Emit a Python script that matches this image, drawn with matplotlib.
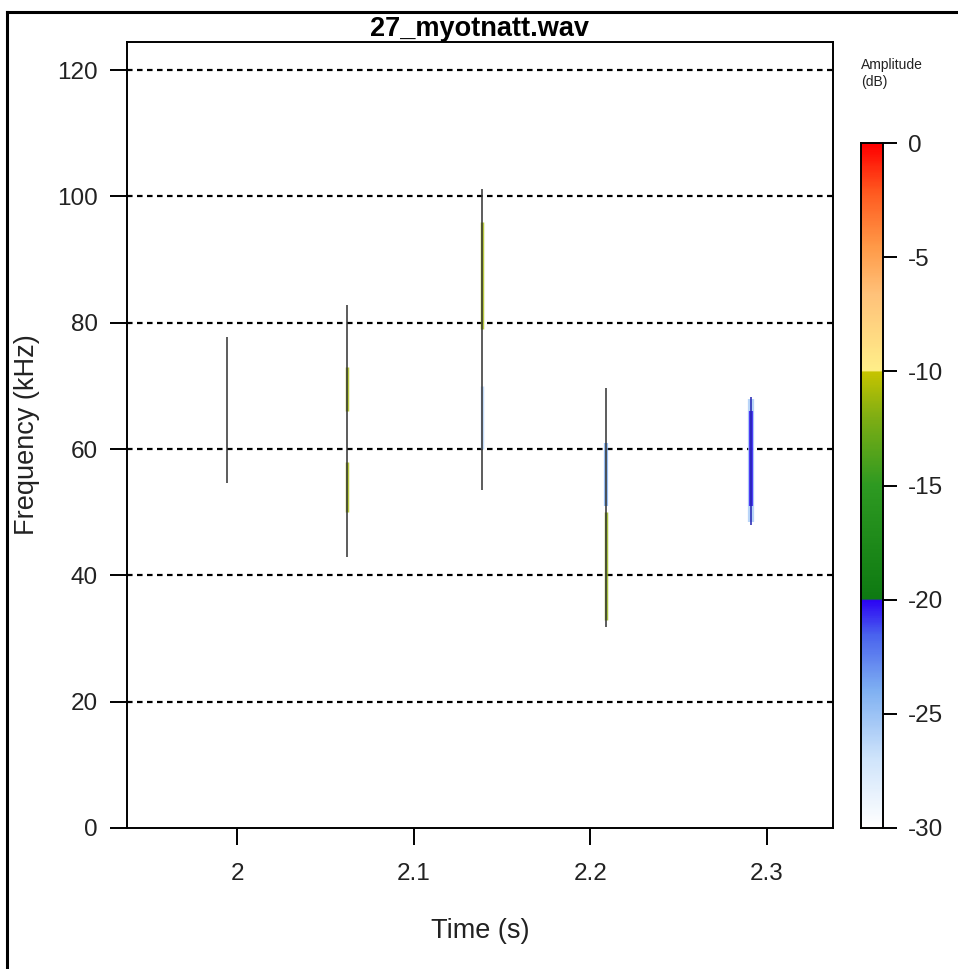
import numpy as np
import matplotlib
matplotlib.use('Agg')
import matplotlib.pyplot as plt
from matplotlib.colors import LinearSegmentedColormap, Normalize
from matplotlib.lines import Line2D

plt.rcParams['font.family'] = ['Liberation Sans', 'DejaVu Sans']

# call data
call_times = [1.9942, 2.062, 2.1387, 2.2089, 2.291]       # s
call_fmin = [54.6, 42.9, 53.5, 31.8, 48.0]                 # kHz
call_fmax = [77.7, 82.8, 101.1, 69.7, 68.2]                # kHz
# coloured parts of each call: (call index, f low, f high, amplitude dB)
part_call = [1, 1, 2, 2, 3, 3, 4, 4]
part_flo = [66.0, 50.0, 79.0, 60.0, 51.0, 33.0, 48.5, 51.0]
part_fhi = [73.0, 58.0, 96.0, 70.0, 61.0, 50.0, 68.0, 66.0]
part_db = [-11.0, -11.0, -11.0, -26.0, -24.0, -11.5, -25.5, -20.3]
part_width = [2.5, 2.5, 2.5, 2.5, 3.0, 2.5, 4.5, 3.0]

grid_freqs = [20, 40, 60, 80, 100, 120]
x_ticks = [2.0, 2.1, 2.2, 2.3]
x_ticklabels = ['2', '2.1', '2.2', '2.3']
y_ticks = [0, 20, 40, 60, 80, 100, 120]
cb_ticks = [0, -5, -10, -15, -20, -25, -30]

# amplitude palette (white-blue / green-olive / yellow-red bands)
spec_cols = [(0.0, '#ffffff'), (0.1, '#cfe4fb'), (0.2, '#7fb0f2'),
             (0.28, '#4a63ee'), (0.3333, '#2b00f5'), (0.3334, '#0e7a12'),
             (0.5, '#2e9a22'), (0.6, '#7fae14'), (0.6666, '#c6c400'),
             (0.6667, '#fff08a'), (0.78, '#ffc27a'), (0.85, '#ff9a48'),
             (0.93, '#ff5a20'), (1.0, '#ff0000')]
cmap = LinearSegmentedColormap.from_list('spectro', spec_cols, N=512)
norm = Normalize(vmin=-30, vmax=0)

W, H = 958, 969
fig = plt.figure(figsize=(W / 100, H / 100), dpi=100)

# outer frame (top and left only)
fig.add_artist(Line2D([7 / W, 7 / W], [0, 1 - 12 / H], color='black', lw=2.2))
fig.add_artist(Line2D([7 / W, 1], [1 - 12 / H, 1 - 12 / H], color='black', lw=2.2))

ax = fig.add_axes([126.7 / W, 1 - 828 / H, (833 - 126.7) / W, (828 - 41.7) / H])
ax.set_xlim(1.9373, 2.3376)
ax.set_ylim(0, 124.5)

for f in grid_freqs:
    ax.axhline(f, color='black', lw=1.6, ls=(0, (2.5, 2)), zorder=1)

# coloured halo first, dark core on top
for i in range(len(part_call)):
    t = call_times[part_call[i]]
    ax.vlines(t, part_flo[i], part_fhi[i], color=cmap(norm(part_db[i])),
              lw=part_width[i], alpha=0.8, zorder=2)
for i in range(len(call_times)):
    core = '#303030' if i != 4 else '#2020b0'
    ax.vlines(call_times[i], call_fmin[i], call_fmax[i], color=core,
              lw=1.1, zorder=3)

ax.set_xticks(x_ticks)
ax.set_xticklabels(x_ticklabels)
ax.set_yticks(y_ticks)
ax.tick_params(axis='both', direction='out', length=12, width=1.4,
               labelsize=17.5, pad=9, labelcolor='#222222')
ax.tick_params(axis='x', pad=13)
for s in ax.spines.values():
    s.set_linewidth(1.4)
ax.set_xlabel('Time (s)', fontsize=19.5, labelpad=24, color='#222222')
ax.set_ylabel('Frequency (kHz)', fontsize=19.5, labelpad=12, color='#222222')
ax.set_title('27_myotnatt.wav', fontsize=19.5, fontweight='bold', pad=3)

# colour bar
cax = fig.add_axes([860.7 / W, 1 - 828 / H, 22 / W, (828 - 143) / H])
grad = np.linspace(-30, 0, 300).reshape(-1, 1)
cax.imshow(grad, aspect='auto', cmap=cmap, norm=norm, origin='lower',
           extent=[0, 1, -30, 0])
cax.set_xticks([])
cax.yaxis.tick_right()
cax.set_yticks(cb_ticks)
cax.set_yticklabels([str(v) for v in cb_ticks])
cax.tick_params(axis='y', direction='out', length=10, width=1.4,
                labelsize=17.5, pad=8, labelcolor='#222222')
for s in cax.spines.values():
    s.set_linewidth(1.4)
fig.text(861 / W, 1 - 58 / H, 'Amplitude\n(dB)', fontsize=10, va='top',
         ha='left', linespacing=1.3, color='#222222')

fig.savefig('out.png', dpi=100)
